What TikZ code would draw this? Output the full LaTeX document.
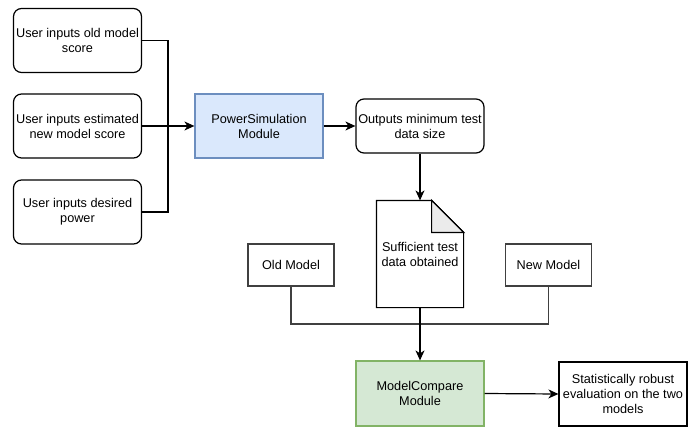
\documentclass[tikz,border=0pt]{standalone}
\usepackage{fontspec}
\setmainfont{Liberation Sans}
\usetikzlibrary{arrows.meta}
\definecolor{simblue}{HTML}{DAE8FC}
\definecolor{simedge}{HTML}{6C8EBF}
\definecolor{cmpgreen}{HTML}{D5E8D4}
\definecolor{cmpedge}{HTML}{82B366}
\definecolor{foldgray}{HTML}{EBEBEB}
\begin{document}
\begin{tikzpicture}[x=1pt,y=-1pt,line width=1.2pt,
    every node/.style={font=\fontsize{12.7}{15}\selectfont,align=center,inner sep=1pt},
    inbox/.style={draw,rounded corners=8pt,minimum width=128pt,minimum height=64pt},
    modbox/.style={draw,minimum width=128pt,minimum height=64pt},
    smallbox/.style={draw=black!75,minimum width=86pt,minimum height=42pt},
    arr/.style={-{Stealth[length=10pt,width=9pt,inset=3pt]}}]
    \useasboundingbox (0,0) rectangle (700,436);

    % User inputs
    \node[inbox] (oldin) at (77.5,40.5) {User inputs old model\\score};
    \node[inbox] (estin) at (77.5,126) {User inputs estimated\\new model score};
    \node[inbox] (powin) at (77.5,212) {User inputs desired\\power};
    \coordinate (join) at (168,126);

    % Power simulation
    \node[modbox,fill=simblue,draw=simedge] (psim) at (259,126) {PowerSimulation\\Module};
    \node[inbox,minimum height=54pt] (outs) at (420,126) {Outputs minimum test\\data size};

    % Test data document
    \node[minimum width=86pt,minimum height=106pt] (doc) at (420,254) {Sufficient test\\data obtained};
    \draw (doc.north west) -- ([xshift=-32pt]doc.north east) -- ([yshift=-32pt]doc.north east)
        -- (doc.south east) -- (doc.south west) -- cycle;
    \filldraw[fill=foldgray] ([xshift=-32pt]doc.north east) -- ([yshift=-32pt]doc.north east)
        -- ([xshift=-32pt,yshift=-32pt]doc.north east) -- cycle;

    % Models
    \node[smallbox] (oldmod) at (291,265) {Old Model};
    \node[smallbox] (newmod) at (548.5,265) {New Model};
    \coordinate (merge) at (420,324);

    % Model comparison
    \node[modbox,fill=cmpgreen,draw=cmpedge,minimum height=65pt] (mcomp) at (420,393.5) {ModelCompare\\Module};
    \node[modbox] (result) at (623,394) {Statistically robust\\evaluation on the two\\models};

    % Connectors
    \draw (oldin.east) -| (join);
    \draw (powin.east) -| (join);
    \draw[arr] (estin.east) -- (psim.west);
    \draw[arr] (psim.east) -- (outs.west);
    \draw[arr] (outs.south) -- (doc.north);
    \draw[black!75] (oldmod.south) |- (merge) -| (newmod.south);
    \draw[arr] (doc.south) -- (mcomp.north);
    \draw[arr] (mcomp.east) -- (result.west);
\end{tikzpicture}
\end{document}
